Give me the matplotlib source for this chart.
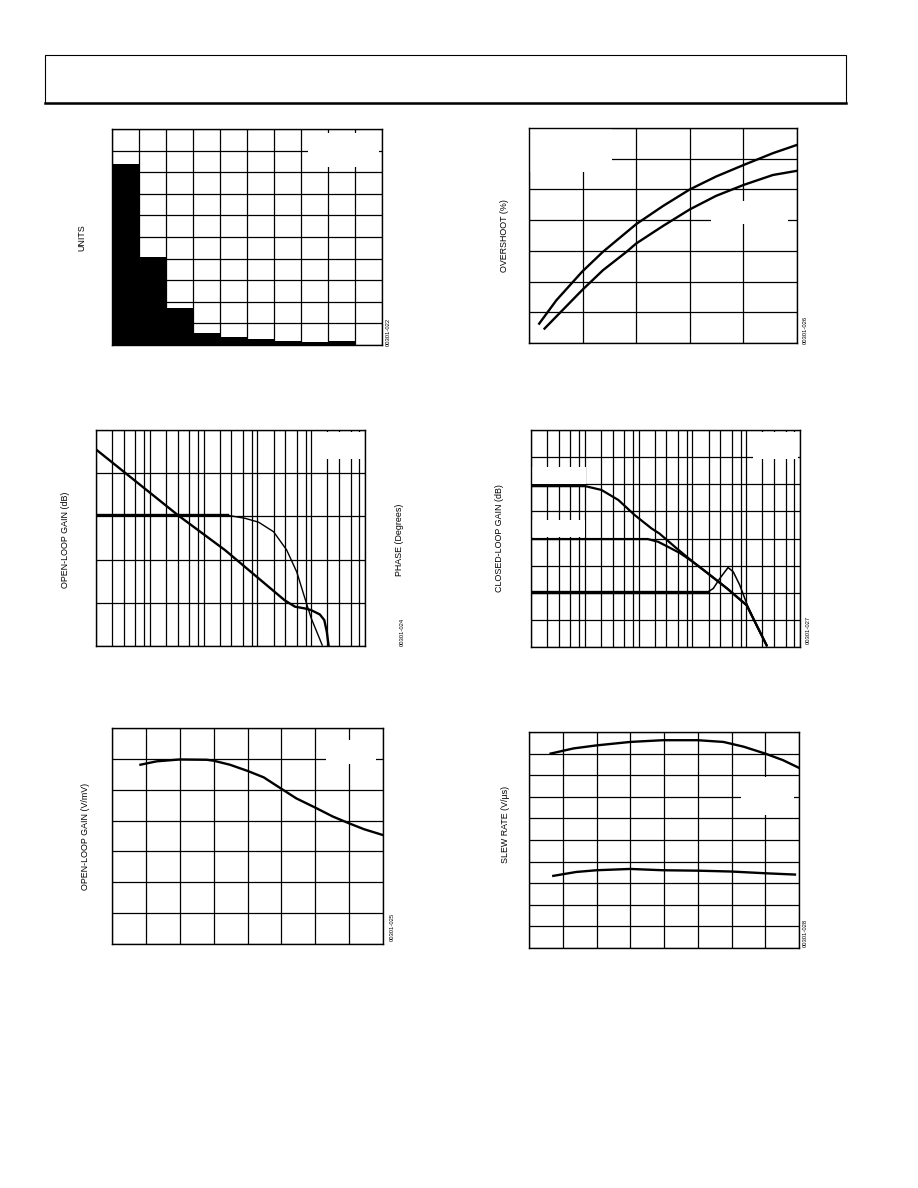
import matplotlib
matplotlib.use("Agg")
import matplotlib.pyplot as plt
from matplotlib.patches import Rectangle
from matplotlib.lines import Line2D
import numpy as np

plt.rcParams['font.family'] = ['Liberation Sans', 'DejaVu Sans']

W, H = 918, 1188

# offset distribution (histogram)
hist_bins = [0, 10, 20, 30, 40, 50, 60, 70, 80, 90]
hist_units = [420, 203, 86, 27, 18, 14, 10, 8, 10, 0]

# overshoot vs capacitive load
ovs_hi_x = [19, 51, 99, 138, 200, 250, 300, 349, 401, 455, 500]
ovs_hi_y = [6.3, 13.9, 23.2, 29.7, 38.7, 44.6, 50.0, 54.2, 58.0, 61.8, 64.5]
ovs_lo_x = [29, 99, 138, 182, 200, 250, 300, 349, 401, 455, 498]
ovs_lo_y = [4.7, 17.2, 23.7, 29.7, 32.4, 38.1, 43.5, 47.9, 51.5, 54.7, 56.0]

# open-loop gain / phase vs frequency
olg_freq = [1e3, 3.4e4, 2.5e5, 3.2e6, 5.0e6, 7.6e6, 1.0e7, 1.45e7, 1.75e7, 1.95e7, 2.1e7]
olg_db = [71, 40.4, 24.4, 1.2, -1.8, -2.6, -3.4, -5.4, -8.0, -13.4, -19.6]
phase_freq = [1e3, 2.9e5, 5.9e5, 1.05e6, 2.0e6, 3.5e6, 5.4e6, 7.6e6, 1.0e7, 1.6e7]
phase_deg = [91, 91, 88, 84, 74, 55, 32, 5, -16, -44]

# closed-loop gain vs frequency
cl40_freq = [1e3, 1.02e4, 2.04e4, 4.2e4, 8.5e4, 1.74e5, 2.45e5, 5.0e5, 1.02e6, 1.95e6, 4.4e6, 1.02e7, 2.4e7]
cl40_db = [39.3, 39.3, 37.9, 34.2, 28.6, 23.7, 21.8, 16.5, 11.4, 7.1, 1.6, -4.6, -19.4]
cl20_freq = [1e3, 1.48e5, 2.3e5, 3.55e5, 5.9e5, 1.02e6, 1.95e6, 4.4e6, 1.02e7, 2.4e7]
cl20_db = [19.8, 19.8, 18.8, 16.9, 14.6, 11.4, 7.1, 1.6, -4.6, -19.4]
cl0_freq = [1e3, 1.95e6, 2.45e6, 3.24e6, 4.6e6, 5.75e6, 7.6e6, 1.05e7, 1.55e7, 2.4e7]
cl0_db = [0.3, 0.3, 1.6, 5.3, 9.3, 7.7, 2.8, -4.6, -12.0, -19.4]

# open-loop gain vs temperature
avol_temp = [-54, -42, -25, -5, 0, 12, 25, 37, 50, 61, 75, 88, 100, 111, 125]
avol_vmv = [581, 592, 598, 597, 594, 581, 561, 540, 503, 472, 442, 413, 391, 372, 353]

# slew rate vs temperature
sr_hi_temp = [-59, -42, -25, 0, 24, 50, 69, 84, 100, 113, 125]
sr_hi = [45.0, 46.2, 46.9, 47.7, 48.1, 48.1, 47.7, 46.6, 45.0, 43.5, 41.7]
sr_lo_temp = [-57, -40, -25, 0, 24, 50, 75, 100, 122]
sr_lo = [16.7, 17.6, 18.0, 18.3, 18.0, 17.9, 17.7, 17.3, 17.0]

fig = plt.figure(figsize=(W / 100, H / 100), dpi=100)


def panel(x0, y0, x1, y1):
    ax = fig.add_axes([x0 / W, 1 - y1 / H, (x1 - x0) / W, (y1 - y0) / H])
    ax.set_axisbelow(True)
    for s in ax.spines.values():
        s.set_linewidth(1.0)
    return ax


def finish(ax):
    ax.tick_params(which='both', length=0, labelbottom=False, labelleft=False)
    ax.grid(True, which='both', color='black', lw=0.9)


def blank(ax, fx0, fy0, fx1, fy1):
    ax.add_patch(Rectangle((fx0, fy0), fx1 - fx0, fy1 - fy0, transform=ax.transAxes,
                           facecolor='white', edgecolor='none', zorder=1.5))


def label(x, y, s, size=6.4):
    fig.text(x / W, 1 - y / H, s, rotation=90, ha='center', va='center', fontsize=size)


# header box
fig.add_artist(Rectangle((45 / W, 1 - 103 / H), 801 / W, 48 / H, transform=fig.transFigure,
                         fill=False, lw=0.8, edgecolor='black'))
fig.add_artist(Line2D([45 / W, 846 / W], [1 - 103 / H, 1 - 103 / H], transform=fig.transFigure,
                      lw=1.8, color='black'))

# panel 1: histogram
ax = panel(112, 129, 382, 345)
ax.bar(hist_bins, hist_units, width=10, align='edge', color='black', lw=0)
ax.set_xlim(0, 100)
ax.set_ylim(0, 500)
ax.set_xticks(np.arange(0, 101, 10))
ax.set_yticks(np.arange(0, 501, 50))
finish(ax)
blank(ax, 0.727, 0.824, 0.99, 0.981)
label(82, 238, 'UNITS')
label(388, 332, '00301-022', 4.2)

# panel 2: overshoot
ax = panel(529, 128, 797, 343)
ax.plot(ovs_hi_x, ovs_hi_y, color='black', lw=1.7, zorder=3)
ax.plot(ovs_lo_x, ovs_lo_y, color='black', lw=1.7, zorder=3)
ax.set_xlim(0, 500)
ax.set_ylim(0, 70)
ax.set_xticks(np.arange(0, 501, 100))
ax.set_yticks(np.arange(0, 71, 10))
finish(ax)
blank(ax, 0.005, 0.796, 0.309, 0.995)
blank(ax, 0.678, 0.554, 0.965, 0.661)
label(504, 236, 'OVERSHOOT (%)')
label(805, 330, '00301-026', 4.2)

decades = [1e3, 1e4, 1e5, 1e6, 1e7, 1e8]
minors = [m * d for d in decades[:-1] for m in (2, 3.3, 5.4, 7.9)]

# panel 3: open-loop gain and phase
ax = panel(96, 430, 365, 646)
ax.set_xscale('log')
ax.set_xlim(1e3, 1e8)
ax.set_ylim(-20, 80)
ax.set_xticks(decades)
ax.set_xticks(minors, minor=True)
ax.set_yticks(np.arange(-20, 81, 20))
ax.plot(olg_freq, olg_db, color='black', lw=1.7, zorder=3)
finish(ax)
blank(ax, 0.818, 0.866, 0.99, 0.989)
ax2 = ax.twinx()
ax2.set_ylim(-45, 180)
ax2.axis('off')
ax2.plot(phase_freq[:2], phase_deg[:2], color='black', lw=1.7)
ax2.plot(phase_freq[1:], phase_deg[1:], color='black', lw=1.0)
label(66, 540, 'OPEN-LOOP GAIN (dB)')
label(400, 540, 'PHASE (Degrees)')
label(402, 632, '00301-024', 4.2)

# panel 4: closed-loop gain
ax = panel(531, 430, 800, 647)
ax.set_xscale('log')
ax.set_xlim(1e3, 1e8)
ax.set_ylim(-20, 60)
ax.set_xticks(decades)
ax.set_xticks(minors, minor=True)
ax.set_yticks(np.arange(-20, 61, 10))
ax.plot(cl40_freq, cl40_db, color='black', lw=1.6, zorder=3)
ax.plot(cl20_freq, cl20_db, color='black', lw=1.6, zorder=3)
ax.plot(cl0_freq, cl0_db, color='black', lw=1.1, zorder=3)
ax.plot(cl0_freq[:2], cl0_db[:2], color='black', lw=2.4, zorder=3)
finish(ax)
blank(ax, 0.825, 0.866, 0.992, 0.991)
blank(ax, 0.004, 0.751, 0.206, 0.831)
blank(ax, 0.004, 0.508, 0.2, 0.585)
label(500, 538, 'CLOSED-LOOP GAIN (dB)')
label(808, 630, '00301-027', 4.2)

# panel 5: open-loop gain vs temperature
ax = panel(112, 728, 383, 944)
ax.plot(avol_temp, avol_vmv, color='black', lw=1.7, zorder=3)
ax.set_xlim(-75, 125)
ax.set_ylim(0, 700)
ax.set_xticks(np.arange(-75, 126, 25))
ax.set_yticks(np.arange(0, 701, 100))
finish(ax)
blank(ax, 0.79, 0.834, 0.975, 0.946)
label(85, 836, 'OPEN-LOOP GAIN (V/mV)')
label(392, 927, '00301-025', 4.2)

# panel 6: slew rate vs temperature
ax = panel(529, 732, 799, 948)
ax.plot(sr_hi_temp, sr_hi, color='black', lw=1.7, zorder=3)
ax.plot(sr_lo_temp, sr_lo, color='black', lw=1.7, zorder=3)
ax.set_xlim(-75, 125)
ax.set_ylim(0, 50)
ax.set_xticks(np.arange(-75, 126, 25))
ax.set_yticks(np.arange(0, 51, 5))
finish(ax)
blank(ax, 0.784, 0.615, 0.98, 0.791)
label(506, 824, 'SLEW RATE (V/µs)')
label(805, 933, '00301-028', 4.2)

fig.savefig('out.png', dpi=100)
